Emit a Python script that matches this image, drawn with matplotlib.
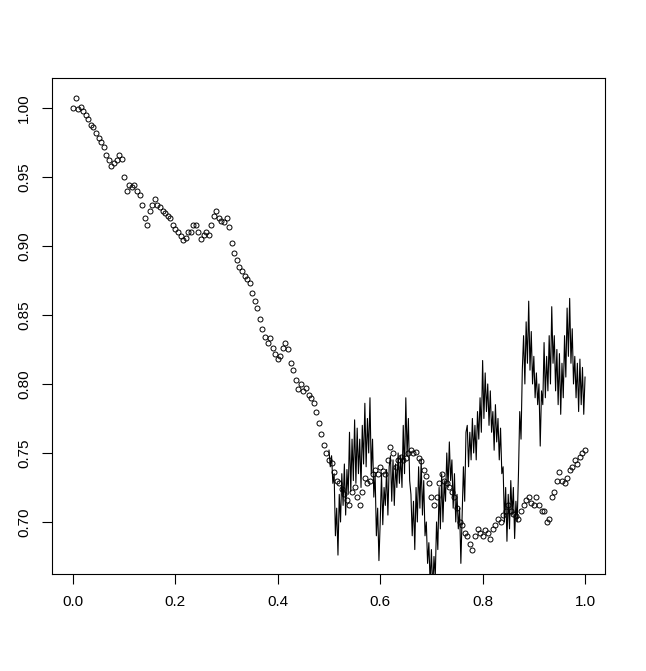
import numpy as np
import matplotlib
matplotlib.use("Agg")
import matplotlib.pyplot as plt

# points, one value every 0.005 from 0 to 1
pt_y = [
    1.000, 1.007, 0.999, 1.001, 0.998, 0.995, 0.992, 0.988, 0.986, 0.982,
    0.978, 0.975, 0.972, 0.966, 0.962, 0.958, 0.960, 0.962, 0.966, 0.963,
    0.950, 0.940, 0.944, 0.943, 0.944, 0.940, 0.937, 0.930, 0.920, 0.915,
    0.925, 0.930, 0.934, 0.930, 0.928, 0.925, 0.924, 0.922, 0.920, 0.915,
    0.912, 0.910, 0.907, 0.904, 0.906, 0.910, 0.910, 0.915, 0.915, 0.910,
    0.905, 0.908, 0.910, 0.908, 0.915, 0.922, 0.925, 0.920, 0.918, 0.917,
    0.920, 0.914, 0.902, 0.895, 0.890, 0.885, 0.882, 0.878, 0.876, 0.873,
    0.866, 0.860, 0.855, 0.847, 0.840, 0.834, 0.830, 0.833, 0.826, 0.822,
    0.818, 0.820, 0.826, 0.830, 0.825, 0.815, 0.810, 0.803, 0.796, 0.800,
    0.795, 0.797, 0.792, 0.790, 0.786, 0.780, 0.772, 0.764, 0.756, 0.750,
    0.745, 0.743, 0.736, 0.730, 0.728, 0.724, 0.720, 0.716, 0.712, 0.722,
    0.725, 0.718, 0.712, 0.722, 0.732, 0.728, 0.730, 0.735, 0.738, 0.735,
    0.740, 0.737, 0.735, 0.745, 0.754, 0.750, 0.740, 0.745, 0.747, 0.745,
    0.746, 0.750, 0.752, 0.750, 0.751, 0.746, 0.744, 0.738, 0.733, 0.728,
    0.718, 0.712, 0.718, 0.728, 0.735, 0.730, 0.728, 0.725, 0.722, 0.718,
    0.710, 0.700, 0.698, 0.692, 0.690, 0.684, 0.680, 0.690, 0.695, 0.692,
    0.690, 0.694, 0.692, 0.688, 0.695, 0.698, 0.702, 0.700, 0.705, 0.708,
    0.712, 0.708, 0.706, 0.704, 0.702, 0.708, 0.712, 0.716, 0.718, 0.714,
    0.712, 0.718, 0.712, 0.708, 0.708, 0.700, 0.702, 0.718, 0.722, 0.730,
    0.736, 0.730, 0.728, 0.732, 0.738, 0.740, 0.745, 0.742, 0.747, 0.750,
    0.752,
]
pt_x = np.linspace(0, 1, len(pt_y))

# line, one value every 0.0025 from 0.5 to 1
ln_y = [
    0.752, 0.740, 0.748, 0.728, 0.735, 0.690, 0.710, 0.676, 0.720, 0.700,
    0.735, 0.712, 0.742, 0.705, 0.738, 0.720, 0.765, 0.722, 0.760, 0.730,
    0.774, 0.728, 0.768, 0.735, 0.760, 0.725, 0.770, 0.742, 0.786, 0.740,
    0.775, 0.750, 0.790, 0.735, 0.760, 0.718, 0.735, 0.690, 0.710, 0.672,
    0.700, 0.735, 0.698, 0.725, 0.712, 0.738, 0.705, 0.740, 0.748, 0.715,
    0.745, 0.712, 0.742, 0.725, 0.750, 0.728, 0.748, 0.725, 0.770, 0.735,
    0.790, 0.748, 0.775, 0.730, 0.720, 0.690, 0.715, 0.680, 0.725, 0.700,
    0.740, 0.710, 0.745, 0.705, 0.730, 0.690, 0.700, 0.670, 0.685, 0.655,
    0.680, 0.650, 0.675, 0.660, 0.700, 0.680, 0.725, 0.695, 0.735, 0.700,
    0.730, 0.715, 0.750, 0.725, 0.758, 0.730, 0.745, 0.710, 0.735, 0.700,
    0.720, 0.695, 0.710, 0.670, 0.705, 0.740, 0.715, 0.765, 0.770, 0.740,
    0.765, 0.745, 0.775, 0.750, 0.770, 0.745, 0.780, 0.760, 0.790, 0.765,
    0.817, 0.775, 0.808, 0.780, 0.800, 0.770, 0.795, 0.765, 0.780, 0.752,
    0.785, 0.758, 0.775, 0.745, 0.768, 0.735, 0.740, 0.700, 0.725, 0.686,
    0.720, 0.695, 0.730, 0.705, 0.725, 0.688, 0.715, 0.700, 0.735, 0.780,
    0.760, 0.810, 0.835, 0.800, 0.845, 0.815, 0.860, 0.810, 0.838, 0.800,
    0.820, 0.790, 0.808, 0.785, 0.800, 0.755, 0.795, 0.785, 0.830, 0.790,
    0.820, 0.795, 0.835, 0.800, 0.856, 0.815, 0.835, 0.795, 0.825, 0.785,
    0.822, 0.778, 0.815, 0.790, 0.835, 0.805, 0.855, 0.820, 0.862, 0.815,
    0.840, 0.800, 0.820, 0.790, 0.815, 0.780, 0.818, 0.785, 0.812, 0.778,
    0.805,
]
ln_x = np.linspace(0.5, 1, len(ln_y))

plt.rcParams["font.family"] = ["Liberation Sans", "DejaVu Sans"]

fig = plt.figure(figsize=(6.46, 6.71), dpi=100)
ax = fig.add_axes([52 / 646, 97 / 671, 553 / 646, 496 / 671])

ax.plot(pt_x, pt_y, "o", ms=3.6, mfc="none", mec="black", mew=0.7)
ax.plot(ln_x, ln_y, color="black", lw=0.8)

ax.set_xlim(-0.041, 1.039)
ax.set_ylim(0.6623, 1.0217)
ax.set_xticks([0.0, 0.2, 0.4, 0.6, 0.8, 1.0])
ax.set_xticklabels(["0.0", "0.2", "0.4", "0.6", "0.8", "1.0"])
ax.set_yticks([0.70, 0.75, 0.80, 0.85, 0.90, 0.95, 1.00])
ax.set_yticklabels(["0.70", "0.75", "0.80", "0.85", "0.90", "0.95", "1.00"],
                   rotation=90, va="center")
ax.tick_params(length=7, width=0.8, labelsize=11, pad=8)
for s in ax.spines.values():
    s.set_linewidth(0.8)
# R leaves a gap between the box and the axis lines; mimic with ticks only
fig.savefig("out.png", dpi=100)
